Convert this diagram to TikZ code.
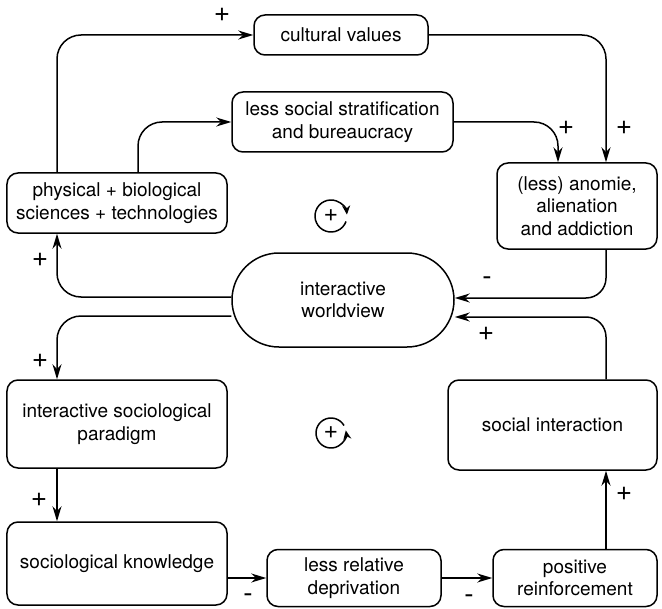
\documentclass[tikz,border=0pt]{standalone}
\usepackage{fontspec}
\setmainfont{TeX Gyre Heros}
\usetikzlibrary{arrows.meta}
\begin{document}
\begin{tikzpicture}[x=1bp,y=-1bp,
  font=\fontsize{19bp}{22.5bp}\selectfont,
  box/.style={draw,line width=1.5bp,rounded corners=11bp,align=center,inner sep=0pt},
  conn/.style={line width=1.5bp,rounded corners=24bp,-{Stealth[length=15bp,width=9bp]}},
  sign/.style={inner sep=0pt,font=\fontsize{28bp}{28bp}\selectfont},
  loopsign/.style={inner sep=0pt,font=\fontsize{25bp}{25bp}\selectfont},
  loopmark/.style={line width=1.5bp,-{Stealth[length=9bp,width=8bp]}}]
\useasboundingbox (0,0) rectangle (662,609);

% boxes
\node[box,minimum width=174bp,minimum height=40bp] (cult) at (341,35) {cultural values};
\node[box,minimum width=221bp,minimum height=60bp] (strat) at (342.5,122) {less social stratification\\and bureaucracy};
\node[box,minimum width=220bp,minimum height=60bp] (phys) at (117,203) {physical + biological\\sciences + technologies};
\node[box,minimum width=160bp,minimum height=86bp] (anom) at (577,206) {(less) anomie,\\alienation\\and addiction};
\node[box,rounded corners=47bp,minimum width=222bp,minimum height=94bp] (world) at (343,300) {interactive\\worldview};
\node[box,minimum width=220bp,minimum height=88bp] (para) at (117,424) {interactive sociological\\paradigm};
\node[box,minimum width=209bp,minimum height=90bp] (soc) at (552.5,425) {social interaction};
\node[box,minimum width=220bp,minimum height=83bp] (know) at (117,563.5) {sociological knowledge};
\node[box,minimum width=174bp,minimum height=57bp] (depr) at (354,578) {less relative\\deprivation};
\node[box,minimum width=164bp,minimum height=57bp] (pos) at (575,578) {positive\\reinforcement};

% connectors
\draw[conn] ([xshift=-60bp]phys.north) |- (cult.west);
\draw[conn] ([xshift=21bp]phys.north) |- (strat.west);
\draw[conn] (cult.east) -| ([xshift=29bp]anom.north);
\draw[conn] (strat.east) -| ([xshift=-19bp]anom.north);
\draw[conn,rounded corners=20bp] ([xshift=29bp]anom.south) |- ([yshift=2bp]world.east);
\draw[conn,rounded corners=20bp] ([xshift=53.5bp]soc.north) |- ([yshift=-17bp]world.east);
\draw[conn] ([yshift=3bp]world.west) -| ([xshift=-60bp]phys.south);
\draw[conn] ([yshift=-16bp]world.west) -| ([xshift=-60bp]para.north);
\draw[conn] ([xshift=-60bp]para.south) -- ([xshift=-60bp]know.north);
\draw[conn] (know.east |- depr.west) -- (depr.west);
\draw[conn] (depr.east) -- (pos.west);
\draw[conn] ([xshift=31bp]pos.north) -- ([xshift=31bp]pos.north |- soc.south);

% polarity signs
\node[sign] (s1) at (222,15) {+};
\node[sign] (s2) at (566,128) {+};
\node[sign] (s3) at (624,128) {+};
\node[sign] (s4) at (40,260) {+};
\node[sign] (s5) at (40,361) {+};
\node[sign] (s6) at (487,281) {-};
\node[sign] (s7) at (486,334) {+};
\node[sign] (s8) at (39,500) {+};
\node[sign] (s9) at (248,598) {-};
\node[sign] (s10) at (469,599) {-};
\node[sign] (s11) at (624,494) {+};

% reinforcing loop markers
\node[loopsign] (loopA) at (331,216) {+};
\draw[loopmark] (loopA.center) ++(-20:16bp) arc[start angle=-20,delta angle=-335,radius=16bp];
\node[loopsign] (loopB) at (331,433) {+};
\draw[loopmark] (loopB.center) ++(30:15bp) arc[start angle=30,delta angle=340,radius=15bp];
\end{tikzpicture}
\end{document}
